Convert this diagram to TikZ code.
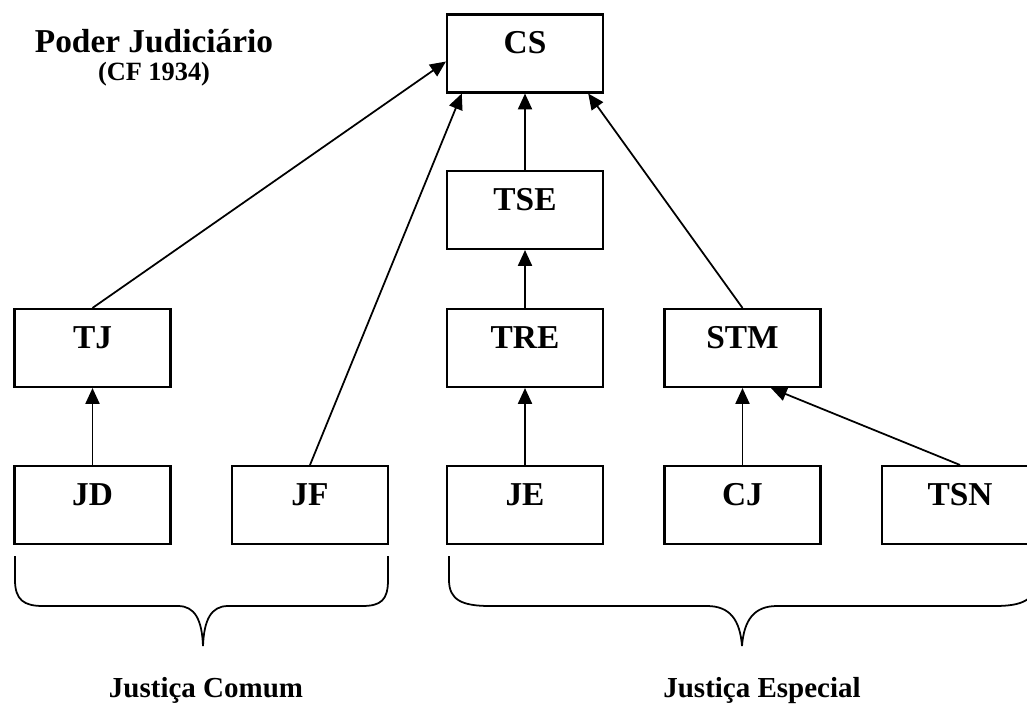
\documentclass[tikz,border=0pt]{standalone}
\usepackage{fontspec}
\setmainfont{Liberation Serif}
\usetikzlibrary{arrows.meta,calc}

\begin{document}
\begin{tikzpicture}[x=0.02cm, y=-0.02cm,
        caixa/.style={draw, line width=1.2pt, minimum width=3.12cm, minimum height=1.56cm,
            inner sep=0pt, text height=0.45cm, text depth=0.45cm,
            font=\fontsize{19}{21}\selectfont\bfseries},
        seta/.style={line width=1pt, -{Triangle[length=9pt, width=8pt]}},
        chave/.style={line width=1pt}]
    \useasboundingbox (0,0) rectangle (1027,707);

    % titulo
    \node[font=\fontsize{19}{20}\selectfont\bfseries, align=center] (titulo) at (154,58)
        {Poder Judici\'ario\\[-4pt]{\fontsize{15}{16}\selectfont (CF 1934)}};

    % caixas
    \node[caixa] (CS) at (525,53.5) {CS};
    \node[caixa] (TSE) at (525,210) {TSE};
    \node[caixa] (TJ) at (92.5,348) {TJ};
    \node[caixa] (TRE) at (525,348) {TRE};
    \node[caixa] (STM) at (742.5,348) {STM};
    \foreach \cNome/\cX in {JD/92.5, JF/310, JE/525, CJ/742.5, TSN/960}
        \node[caixa] (\cNome) at (\cX,505) {\cNome};

    % setas
    \draw[seta] (TJ.north) -- ($(CS.north west)!0.6!(CS.south west)$);
    \draw[seta] (JF.north) -- ($(CS.south west)!0.1!(CS.south east)$);
    \draw[seta] (TSE) -- (CS);
    \draw[seta] (STM.north) -- ($(CS.south west)!0.9!(CS.south east)$);
    \draw[seta] (TRE) -- (TSE);
    \draw[seta] (JD) -- (TJ);
    \draw[seta] (JE) -- (TRE);
    \draw[seta] (CJ) -- (STM);
    \draw[seta] (TSN.north) -- ($(STM.south west)!0.68!(STM.south east)$);

    % chaves
    \draw[chave] (15,556) -- (15,580) .. controls (15,600) and (24,606) .. (43,606)
        -- (178,606) .. controls (195,606) and (202,620) .. (203,646)
        .. controls (204,620) and (211,606) .. (228,606)
        -- (362,606) .. controls (381,606) and (388,600) .. (388,580) -- (388,556);
    \draw[chave] (449,556) -- (449,580) .. controls (449,600) and (462,606) .. (490,606)
        -- (707,606) .. controls (730,606) and (740,620) .. (742,646)
        .. controls (744,620) and (754,606) .. (777,606)
        -- (995,606) .. controls (1022,606) and (1036,600) .. (1036,580) -- (1036,556);

    \node[font=\fontsize{16.5}{18}\selectfont\bfseries, anchor=base] (comum) at (206,697) {Justi\c{c}a Comum};
    \node[font=\fontsize{16.5}{18}\selectfont\bfseries, anchor=base] (especial) at (762,697) {Justi\c{c}a Especial};
\end{tikzpicture}
\end{document}
